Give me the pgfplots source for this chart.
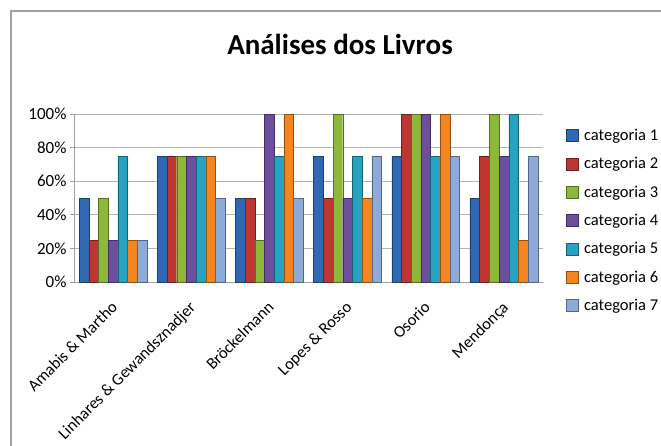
\documentclass[border=0pt]{standalone}
\usepackage{fontspec}
\setmainfont{Carlito}
\usepackage{pgfplots}
\usepackage{pgfplotstable}
\pgfplotsset{compat=1.18}
\definecolor{c1}{HTML}{2F69B3}
\definecolor{c2}{HTML}{BE3531}
\definecolor{c3}{HTML}{8DB83A}
\definecolor{c4}{HTML}{6E4F9E}
\definecolor{c5}{HTML}{27A3C2}
\definecolor{c6}{HTML}{F5861F}
\definecolor{c7}{HTML}{8EAAD9}
\definecolor{bordergray}{HTML}{A0A0A0}
\pgfplotstableread{
x c1 c2 c3 c4 c5 c6 c7
0 50 25 50 25 75 25 25
1 75 75 75 75 75 75 50
2 50 50 25 100 75 100 50
3 75 50 100 50 75 50 75
4 75 100 100 100 75 100 75
5 50 75 100 75 100 25 75
}\datatable
\pgfplotsset{cyl/.style={draw=#1!60!black, line width=0.4pt, fill=#1}}
\begin{document}
\begin{tikzpicture}
\path[use as bounding box] (0,0) rectangle (661bp,-446bp);
\draw[bordergray, line width=2bp] (11bp,-446bp) -- (11bp,-11bp) -- (661bp,-11bp);
\node[font=\fontsize{29bp}{34bp}\selectfont\bfseries] at (340bp,-44bp) {Análises dos Livros};
\begin{axis}[
  at={(74bp,-282bp)}, anchor=south west,
  scale only axis, width=469bp, height=168bp,
  ybar=0pt, bar width=0.124,
  xmin=-0.5, xmax=5.5, ymin=0, ymax=100,
  xtick={0,...,5},
  xticklabels={Amabis \& Martho, Linhares \& Gewandsznadjer, Bröckelmann, Lopes \& Rosso, Osorio, Mendonça},
  x tick label style={rotate=45, anchor=north east, font=\fontsize{16.5bp}{20bp}\selectfont, inner sep=2bp, xshift=-10bp, yshift=-6bp},
  ytick={0,20,40,60,80,100},
  yticklabel={\pgfmathprintnumber{\tick}\%},
  /pgf/number format/assume math mode=true,
  y tick label style={font=\fontsize{17bp}{20bp}\selectfont},
  axis x line*=bottom, axis y line*=left,
  axis line style={bordergray, line width=0.8bp},
  xtick style={draw=none},
  ytick style={bordergray, line width=0.8bp},
  tick align=outside, major tick length=4bp,
  ymajorgrids, grid style={bordergray!80, line width=0.8bp},
  clip=false,
  legend style={at={(1.048,0.935)}, anchor=north west, draw=none, fill=none,
    font=\fontsize{16.5bp}{19bp}\selectfont, row sep=11.5bp, inner xsep=0bp},
  legend cell align=left,
  legend image code/.code={\draw[#1] (0bp,-6bp) rectangle (12bp,6bp);},
]
\addplot[cyl=c1] table[x=x,y=c1]{\datatable};
\addplot[cyl=c2] table[x=x,y=c2]{\datatable};
\addplot[cyl=c3] table[x=x,y=c3]{\datatable};
\addplot[cyl=c4] table[x=x,y=c4]{\datatable};
\addplot[cyl=c5] table[x=x,y=c5]{\datatable};
\addplot[cyl=c6] table[x=x,y=c6]{\datatable};
\addplot[cyl=c7] table[x=x,y=c7]{\datatable};
\legend{\hspace{4bp}categoria 1, \hspace{4bp}categoria 2, \hspace{4bp}categoria 3, \hspace{4bp}categoria 4, \hspace{4bp}categoria 5, \hspace{4bp}categoria 6, \hspace{4bp}categoria 7}
\end{axis}
\end{tikzpicture}
\end{document}
